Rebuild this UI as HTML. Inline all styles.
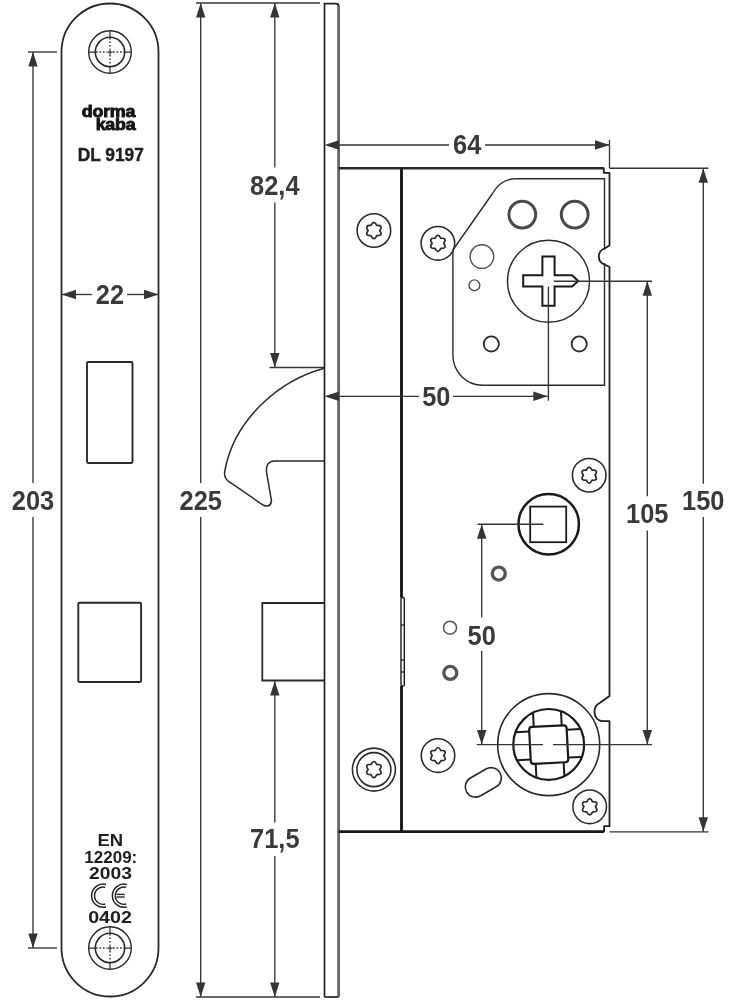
<!DOCTYPE html>
<html><head><meta charset="utf-8"><style>
html,body{margin:0;padding:0;background:#fff;width:744px;height:1000px;overflow:hidden}
svg{filter:grayscale(1)}
svg{display:block}
text{font-family:"Liberation Sans",sans-serif}
</style></head><body>
<svg width="744" height="1000" viewBox="0 0 744 1000">
<rect width="744" height="1000" fill="#fff"/>
<path d="M61.5 52 V948 A48.5 48.5 0 0 0 158.5 948 V52 A48.5 48.5 0 0 0 61.5 52 Z" fill="none" stroke="#2a2a2a" stroke-width="1.8"/>
<circle cx="110.00" cy="52.00" r="21.30" stroke="#2a2a2a" stroke-width="1.40" fill="none" />
<circle cx="110.00" cy="52.00" r="14.70" stroke="#2a2a2a" stroke-width="1.60" fill="none" />
<path d="M88.7 52 H95.3 M124.7 52 H131.3 M110 30.7 V37.3 M110 66.7 V73.3 M107.3 52 H112.7 M110 49.3 V54.7" stroke="#333" stroke-width="1.25" fill="none"/>
<path d="M96 52 H107 M113 52 H124 M110 38 V49 M110 55 V66" stroke="#333" stroke-width="1.4" stroke-dasharray="1.6 1.9" fill="none"/>
<circle cx="110.00" cy="948.00" r="21.30" stroke="#2a2a2a" stroke-width="1.40" fill="none" />
<circle cx="110.00" cy="948.00" r="14.70" stroke="#2a2a2a" stroke-width="1.60" fill="none" />
<path d="M88.7 948 H95.3 M124.7 948 H131.3 M110 926.7 V933.3 M110 962.7 V969.3 M107.3 948 H112.7 M110 945.3 V950.7" stroke="#333" stroke-width="1.25" fill="none"/>
<path d="M96 948 H107 M113 948 H124 M110 934 V945 M110 951 V962" stroke="#333" stroke-width="1.4" stroke-dasharray="1.6 1.9" fill="none"/>
<rect x="87" y="362" width="45.5" height="101" rx="1.2" fill="none" stroke="#2a2a2a" stroke-width="1.9"/>
<rect x="78.3" y="602.7" width="62.8" height="79.3" rx="1.2" fill="none" stroke="#2a2a2a" stroke-width="1.9"/>
<text transform="translate(108.50 117.20) scale(1.080 1)" x="0" y="0" font-size="16.50" text-anchor="middle" fill="#151515" font-weight="bold" letter-spacing="-0.2" stroke="#151515" stroke-width="0.9">dorma</text>
<text transform="translate(115.50 130.20) scale(1.080 1)" x="0" y="0" font-size="16.50" text-anchor="middle" fill="#151515" font-weight="bold" letter-spacing="-0.2" stroke="#151515" stroke-width="0.9">kaba</text>
<text transform="translate(110.80 160.80) scale(0.960 1)" x="0" y="0" font-size="18.00" text-anchor="middle" fill="#1e1e1e" font-weight="bold" stroke="#1e1e1e" stroke-width="0.4">DL 9197</text>
<text transform="translate(110.20 846.00) scale(1.120 1)" x="0" y="0" font-size="16.50" text-anchor="middle" fill="#1e1e1e" font-weight="bold" >EN</text>
<text transform="translate(110.80 862.80) scale(1.030 1)" x="0" y="0" font-size="16.50" text-anchor="middle" fill="#1e1e1e" font-weight="bold" >12209:</text>
<text transform="translate(110.50 879.30) scale(1.170 1)" x="0" y="0" font-size="16.50" text-anchor="middle" fill="#1e1e1e" font-weight="bold" >2003</text>
<text transform="translate(110.00 922.70) scale(1.190 1)" x="0" y="0" font-size="16.50" text-anchor="middle" fill="#1e1e1e" font-weight="bold" >0402</text>
<path d="M105.6 885.9 A10.1 10.1 0 1 0 105.6 905.5" fill="none" stroke="#222" stroke-width="4.4"/>
<path d="M126.4 885.9 A10.1 10.1 0 1 0 126.4 905.5" fill="none" stroke="#222" stroke-width="4.4"/>
<path d="M105.6 885.9 A10.1 10.1 0 1 0 105.6 905.5" fill="none" stroke="#fff" stroke-width="1.5"/>
<path d="M126.4 885.9 A10.1 10.1 0 1 0 126.4 905.5" fill="none" stroke="#fff" stroke-width="1.5"/>
<path d="M116.5 895.7 H124.5" fill="none" stroke="#222" stroke-width="4"/>
<path d="M116.2 895.7 H124" fill="none" stroke="#fff" stroke-width="1.3"/>
<line x1="28.00" y1="52.00" x2="57.00" y2="52.00" stroke="#353535" stroke-width="1.35"/>
<line x1="28.00" y1="948.00" x2="57.00" y2="948.00" stroke="#353535" stroke-width="1.35"/>
<line x1="33.00" y1="52.00" x2="33.00" y2="483.00" stroke="#353535" stroke-width="1.35"/>
<line x1="33.00" y1="517.00" x2="33.00" y2="948.00" stroke="#353535" stroke-width="1.35"/>
<polygon points="33.00,52.00 28.30,66.50 37.70,66.50" fill="#353535"/>
<polygon points="33.00,948.00 28.30,933.50 37.70,933.50" fill="#353535"/>
<text transform="translate(33.00 510.00) scale(0.925 1)" x="0" y="0" font-size="27.50" text-anchor="middle" fill="#3a3a3a" font-weight="bold" >203</text>
<line x1="61.50" y1="294.50" x2="92.00" y2="294.50" stroke="#353535" stroke-width="1.35"/>
<line x1="127.00" y1="294.50" x2="158.50" y2="294.50" stroke="#353535" stroke-width="1.35"/>
<polygon points="61.50,294.50 76.00,289.80 76.00,299.20" fill="#353535"/>
<polygon points="158.50,294.50 144.00,289.80 144.00,299.20" fill="#353535"/>
<text transform="translate(110.00 303.50) scale(0.925 1)" x="0" y="0" font-size="27.50" text-anchor="middle" fill="#3a3a3a" font-weight="bold" >22</text>
<line x1="196.00" y1="3.00" x2="320.00" y2="3.00" stroke="#353535" stroke-width="1.35"/>
<line x1="196.00" y1="997.00" x2="320.00" y2="997.00" stroke="#353535" stroke-width="1.35"/>
<line x1="200.70" y1="3.00" x2="200.70" y2="483.00" stroke="#353535" stroke-width="1.35"/>
<line x1="200.70" y1="517.00" x2="200.70" y2="997.00" stroke="#353535" stroke-width="1.35"/>
<polygon points="200.70,3.00 196.00,17.50 205.40,17.50" fill="#353535"/>
<polygon points="200.70,997.00 196.00,982.50 205.40,982.50" fill="#353535"/>
<text transform="translate(200.70 510.00) scale(0.925 1)" x="0" y="0" font-size="27.50" text-anchor="middle" fill="#3a3a3a" font-weight="bold" >225</text>
<line x1="274.80" y1="3.00" x2="274.80" y2="167.50" stroke="#353535" stroke-width="1.35"/>
<line x1="274.80" y1="202.50" x2="274.80" y2="367.50" stroke="#353535" stroke-width="1.35"/>
<polygon points="274.80,3.00 270.10,17.50 279.50,17.50" fill="#353535"/>
<polygon points="274.80,367.50 270.10,353.00 279.50,353.00" fill="#353535"/>
<text transform="translate(274.80 195.00) scale(0.925 1)" x="0" y="0" font-size="27.50" text-anchor="middle" fill="#3a3a3a" font-weight="bold" >82,4</text>
<line x1="269.50" y1="367.50" x2="324.50" y2="367.50" stroke="#353535" stroke-width="1.35"/>
<line x1="274.80" y1="681.00" x2="274.80" y2="822.50" stroke="#353535" stroke-width="1.35"/>
<line x1="274.80" y1="856.00" x2="274.80" y2="997.00" stroke="#353535" stroke-width="1.35"/>
<polygon points="274.80,681.00 270.10,695.50 279.50,695.50" fill="#353535"/>
<polygon points="274.80,997.00 270.10,982.50 279.50,982.50" fill="#353535"/>
<text transform="translate(274.80 848.00) scale(0.925 1)" x="0" y="0" font-size="27.50" text-anchor="middle" fill="#3a3a3a" font-weight="bold" >71,5</text>
<path d="M338.6 5.5 V997" fill="none" stroke="#686868" stroke-width="2.8"/>
<path d="M324.5 997 V3.6 H336 Q338.6 3.6 338.6 6" fill="none" stroke="#222" stroke-width="1.7"/>
<path d="M324.5 997 H338.6" fill="none" stroke="#222" stroke-width="1.7"/>
<path d="M338.5 168.3 H603.8" fill="none" stroke="#2a2a2a" stroke-width="2.6"/>
<path d="M338.5 831.6 H604.1" fill="none" stroke="#1a1a1a" stroke-width="2.6"/>
<path d="M603.8 167.5 V172.8 H609.5 V245.5 L604.5 248.5 A8.5 8.5 0 0 0 604.5 264.5 L609.5 267 V696 L600 702.7 A10 10 0 0 0 601.5 721.2 H609.5 V826.2 H604.1 V832" fill="none" stroke="#1e1e1e" stroke-width="1.8" stroke-linejoin="round"/>
<line x1="401.50" y1="168.40" x2="401.50" y2="597.50" stroke="#111" stroke-width="2.80"/>
<line x1="401.50" y1="686.00" x2="401.50" y2="831.30" stroke="#111" stroke-width="2.80"/>
<path d="M324.5 368.3 C280 380 234 419 224.8 471 Q223.3 479 231 483 L263 505 Q270 508.5 271.5 501 L266.5 472 Q265.5 461 275 461 H324.5" fill="none" stroke="#2a2a2a" stroke-width="1.5"/>
<path d="M324.5 603 H262.3 V680.5 H324.5" fill="none" stroke="#2a2a2a" stroke-width="1.8"/>
<path d="M515.8 178.7 H604.5 V249.7 M604.5 262.9 V385.3 H482.6 A30 30 0 0 1 452.9 355.3 V250 L492.5 193.5 Q501 178.7 516 178.7" fill="none" stroke="#2a2a2a" stroke-width="1.4"/>
<circle cx="522.30" cy="214.60" r="13.40" stroke="#4a4a4a" stroke-width="3.00" fill="none" />
<circle cx="574.70" cy="214.60" r="13.40" stroke="#4a4a4a" stroke-width="3.00" fill="none" />
<circle cx="548.50" cy="281.20" r="41.00" stroke="#2a2a2a" stroke-width="1.40" fill="none" />
<circle cx="481.90" cy="256.60" r="11.80" stroke="#505050" stroke-width="1.40" fill="none" />
<circle cx="474.40" cy="285.30" r="5.40" stroke="#505050" stroke-width="1.40" fill="none" />
<circle cx="491.30" cy="343.90" r="7.60" stroke="#2a2a2a" stroke-width="1.80" fill="none" />
<circle cx="579.20" cy="343.90" r="7.60" stroke="#2a2a2a" stroke-width="1.80" fill="none" />
<path d="M542.4 256.5 H554.6 V275.2 H572.1 L578.2 281 L572.1 286.6 H554.6 V305.8 H542.4 V286.6 H523.2 V275.2 H542.4 Z" fill="none" stroke="#1a1a1a" stroke-width="2"/>
<circle cx="373.90" cy="230.50" r="16.80" stroke="#2a2a2a" stroke-width="1.55" fill="none" />
<path d="M371.00 225.48 Q373.90 219.32 376.80 225.48 Q383.58 224.91 379.70 230.50 Q383.58 236.09 376.80 235.52 Q373.90 241.68 371.00 235.52 Q364.22 236.09 368.10 230.50 Q364.22 224.91 371.00 225.48 Z" fill="none" stroke="#2a2a2a" stroke-width="1.70" stroke-linejoin="round"/>
<circle cx="437.90" cy="243.30" r="16.80" stroke="#2a2a2a" stroke-width="1.55" fill="none" />
<path d="M435.00 238.28 Q437.90 232.12 440.80 238.28 Q447.58 237.71 443.70 243.30 Q447.58 248.89 440.80 248.32 Q437.90 254.48 435.00 248.32 Q428.22 248.89 432.10 243.30 Q428.22 237.71 435.00 238.28 Z" fill="none" stroke="#2a2a2a" stroke-width="1.70" stroke-linejoin="round"/>
<circle cx="589.20" cy="475.20" r="16.80" stroke="#2a2a2a" stroke-width="1.55" fill="none" />
<path d="M586.30 470.18 Q589.20 464.02 592.10 470.18 Q598.88 469.61 595.00 475.20 Q598.88 480.79 592.10 480.22 Q589.20 486.38 586.30 480.22 Q579.52 480.79 583.40 475.20 Q579.52 469.61 586.30 470.18 Z" fill="none" stroke="#2a2a2a" stroke-width="1.70" stroke-linejoin="round"/>
<circle cx="438.00" cy="755.60" r="16.80" stroke="#2a2a2a" stroke-width="1.55" fill="none" />
<path d="M435.10 750.58 Q438.00 744.42 440.90 750.58 Q447.68 750.01 443.80 755.60 Q447.68 761.19 440.90 760.62 Q438.00 766.78 435.10 760.62 Q428.32 761.19 432.20 755.60 Q428.32 750.01 435.10 750.58 Z" fill="none" stroke="#2a2a2a" stroke-width="1.70" stroke-linejoin="round"/>
<circle cx="589.70" cy="806.80" r="16.80" stroke="#2a2a2a" stroke-width="1.55" fill="none" />
<path d="M586.80 801.78 Q589.70 795.62 592.60 801.78 Q599.38 801.21 595.50 806.80 Q599.38 812.39 592.60 811.82 Q589.70 817.98 586.80 811.82 Q580.02 812.39 583.90 806.80 Q580.02 801.21 586.80 801.78 Z" fill="none" stroke="#2a2a2a" stroke-width="1.70" stroke-linejoin="round"/>
<circle cx="373.90" cy="769.60" r="21.50" stroke="#2a2a2a" stroke-width="1.55" fill="none" />
<circle cx="373.90" cy="769.60" r="17.00" stroke="#2a2a2a" stroke-width="1.55" fill="none" />
<path d="M371.00 764.58 Q373.90 758.42 376.80 764.58 Q383.58 764.01 379.70 769.60 Q383.58 775.19 376.80 774.62 Q373.90 780.78 371.00 774.62 Q364.22 775.19 368.10 769.60 Q364.22 764.01 371.00 764.58 Z" fill="none" stroke="#2a2a2a" stroke-width="1.70" stroke-linejoin="round"/>
<circle cx="548.70" cy="524.20" r="30.20" stroke="#1a1a1a" stroke-width="2.50" fill="none" />
<rect x="530.2" y="506.6" width="36" height="35.6" fill="none" stroke="#1a1a1a" stroke-width="1.8"/>
<circle cx="498.80" cy="573.60" r="6.50" stroke="#555" stroke-width="3.30" fill="none" />
<circle cx="450.00" cy="627.70" r="6.50" stroke="#555" stroke-width="1.50" fill="none" />
<circle cx="450.30" cy="672.90" r="6.50" stroke="#555" stroke-width="3.30" fill="none" />
<circle cx="548.70" cy="744.60" r="51.00" stroke="#2a2a2a" stroke-width="1.60" fill="none" />
<circle cx="548.70" cy="744.40" r="35.40" stroke="#1a1a1a" stroke-width="2.20" fill="none" />
<g transform="rotate(-3 548.70 744.60)">
<rect x="529.95" y="726.10" width="37.5" height="37" rx="3" fill="none" stroke="#1a1a1a" stroke-width="2.2"/>
<line x1="534.70" y1="726.10" x2="534.70" y2="712.09" stroke="#1a1a1a" stroke-width="2"/>
<line x1="534.70" y1="763.10" x2="534.70" y2="777.11" stroke="#1a1a1a" stroke-width="2"/>
<line x1="529.95" y1="730.60" x2="516.19" y2="730.60" stroke="#1a1a1a" stroke-width="2"/>
<line x1="567.45" y1="730.60" x2="581.21" y2="730.60" stroke="#1a1a1a" stroke-width="2"/>
<line x1="562.70" y1="726.10" x2="562.70" y2="712.09" stroke="#1a1a1a" stroke-width="2"/>
<line x1="562.70" y1="763.10" x2="562.70" y2="777.11" stroke="#1a1a1a" stroke-width="2"/>
<line x1="529.95" y1="758.60" x2="516.19" y2="758.60" stroke="#1a1a1a" stroke-width="2"/>
<line x1="567.45" y1="758.60" x2="581.21" y2="758.60" stroke="#1a1a1a" stroke-width="2"/>
</g>
<rect x="464.05" y="772.15" width="38.5" height="20.5" rx="10.25" transform="rotate(-30 483.3 782.4)" fill="none" stroke="#2a2a2a" stroke-width="1.6"/>
<rect x="401" y="597.5" width="3.3" height="88.5" rx="1.2" fill="none" stroke="#1a1a1a" stroke-width="1.4"/>
<line x1="401" y1="625.0" x2="404.3" y2="625.0" stroke="#1a1a1a" stroke-width="1.2"/>
<line x1="401" y1="660.0" x2="404.3" y2="660.0" stroke="#1a1a1a" stroke-width="1.2"/>
<line x1="401" y1="672.0" x2="404.3" y2="672.0" stroke="#1a1a1a" stroke-width="1.2"/>
<line x1="338.50" y1="145.00" x2="449.00" y2="145.00" stroke="#353535" stroke-width="1.35"/>
<line x1="485.00" y1="145.00" x2="609.50" y2="145.00" stroke="#353535" stroke-width="1.35"/>
<polygon points="324.50,145.00 339.00,140.30 339.00,149.70" fill="#353535"/>
<polygon points="609.50,145.00 595.00,140.30 595.00,149.70" fill="#353535"/>
<line x1="609.50" y1="139.80" x2="609.50" y2="168.40" stroke="#353535" stroke-width="1.35"/>
<text transform="translate(467.20 154.30) scale(0.925 1)" x="0" y="0" font-size="27.50" text-anchor="middle" fill="#3a3a3a" font-weight="bold" >64</text>
<line x1="609.60" y1="168.20" x2="708.40" y2="168.20" stroke="#353535" stroke-width="1.35"/>
<line x1="609.60" y1="831.80" x2="708.40" y2="831.80" stroke="#353535" stroke-width="1.35"/>
<line x1="703.30" y1="168.20" x2="703.30" y2="483.80" stroke="#353535" stroke-width="1.35"/>
<line x1="703.30" y1="517.00" x2="703.30" y2="831.80" stroke="#353535" stroke-width="1.35"/>
<polygon points="703.30,168.20 698.60,182.70 708.00,182.70" fill="#353535"/>
<polygon points="703.30,831.80 698.60,817.30 708.00,817.30" fill="#353535"/>
<text transform="translate(703.30 510.20) scale(0.925 1)" x="0" y="0" font-size="27.50" text-anchor="middle" fill="#3a3a3a" font-weight="bold" >150</text>
<line x1="553.80" y1="281.20" x2="652.00" y2="281.20" stroke="#353535" stroke-width="1.35"/>
<line x1="476.80" y1="744.60" x2="543.00" y2="744.60" stroke="#353535" stroke-width="1.35"/>
<line x1="553.00" y1="744.60" x2="652.00" y2="744.60" stroke="#353535" stroke-width="1.35"/>
<line x1="647.30" y1="281.20" x2="647.30" y2="496.20" stroke="#353535" stroke-width="1.35"/>
<line x1="647.30" y1="530.40" x2="647.30" y2="744.60" stroke="#353535" stroke-width="1.35"/>
<polygon points="647.30,281.20 642.60,295.70 652.00,295.70" fill="#353535"/>
<polygon points="647.30,744.60 642.60,730.10 652.00,730.10" fill="#353535"/>
<text transform="translate(647.30 523.20) scale(0.925 1)" x="0" y="0" font-size="27.50" text-anchor="middle" fill="#3a3a3a" font-weight="bold" >105</text>
<line x1="338.50" y1="396.30" x2="419.00" y2="396.30" stroke="#353535" stroke-width="1.35"/>
<line x1="453.00" y1="396.30" x2="547.80" y2="396.30" stroke="#353535" stroke-width="1.35"/>
<polygon points="324.50,396.30 339.00,391.60 339.00,401.00" fill="#353535"/>
<polygon points="547.80,396.30 533.30,391.60 533.30,401.00" fill="#353535"/>
<line x1="548.40" y1="286.60" x2="548.40" y2="400.70" stroke="#353535" stroke-width="1.35"/>
<text transform="translate(436.30 406.00) scale(0.925 1)" x="0" y="0" font-size="27.50" text-anchor="middle" fill="#3a3a3a" font-weight="bold" >50</text>
<line x1="477.50" y1="524.20" x2="543.40" y2="524.20" stroke="#353535" stroke-width="1.35"/>
<line x1="481.70" y1="524.20" x2="481.70" y2="617.50" stroke="#353535" stroke-width="1.35"/>
<line x1="481.70" y1="651.00" x2="481.70" y2="744.60" stroke="#353535" stroke-width="1.35"/>
<polygon points="481.70,524.20 477.00,538.70 486.40,538.70" fill="#353535"/>
<polygon points="481.70,744.60 477.00,730.10 486.40,730.10" fill="#353535"/>
<text transform="translate(481.70 644.50) scale(0.925 1)" x="0" y="0" font-size="27.50" text-anchor="middle" fill="#3a3a3a" font-weight="bold" >50</text>
</svg></body></html>
